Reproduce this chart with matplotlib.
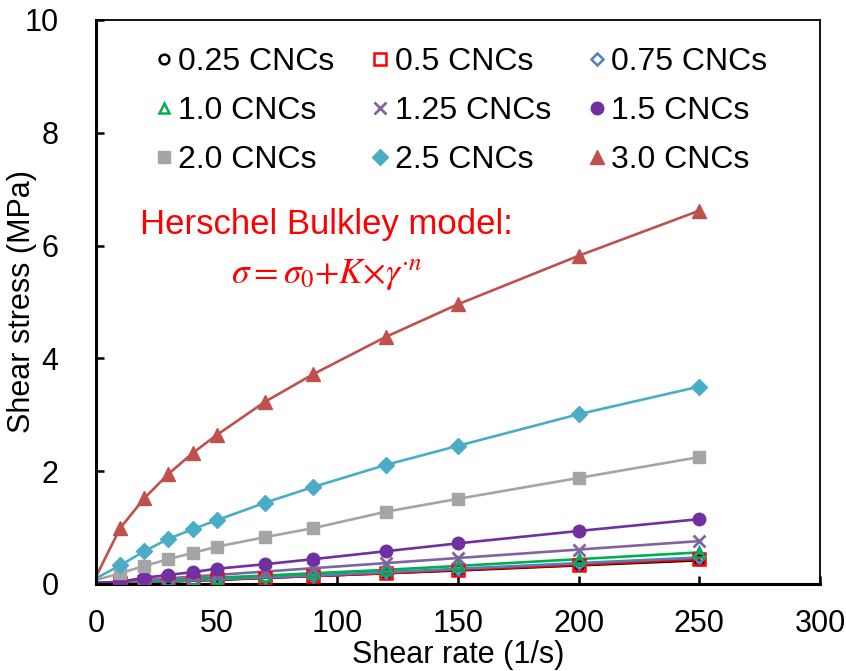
import matplotlib
matplotlib.use("Agg")
import matplotlib.pyplot as plt

plt.rcParams['font.family'] = ['Liberation Sans', 'DejaVu Sans']
plt.rcParams['mathtext.fontset'] = 'stix'

# shear rates (1/s)
shear_rate = [10, 20, 30, 40, 50, 70, 90, 120, 150, 200, 250]

labels = ['0.25 CNCs', '0.5 CNCs', '0.75 CNCs', '1.0 CNCs', '1.25 CNCs',
          '1.5 CNCs', '2.0 CNCs', '2.5 CNCs', '3.0 CNCs']

# measured shear stress (MPa)
stress_025 = [0.02, 0.03, 0.04, 0.06, 0.07, 0.11, 0.14, 0.19, 0.24, 0.33, 0.42]
stress_05 = [0.02, 0.03, 0.05, 0.06, 0.08, 0.11, 0.14, 0.19, 0.25, 0.34, 0.44]
stress_075 = [0.02, 0.04, 0.05, 0.07, 0.08, 0.12, 0.15, 0.21, 0.27, 0.37, 0.47]
stress_10 = [0.03, 0.05, 0.07, 0.09, 0.11, 0.15, 0.19, 0.25, 0.32, 0.44, 0.56]
stress_125 = [0.03, 0.07, 0.10, 0.13, 0.16, 0.22, 0.28, 0.37, 0.46, 0.61, 0.76]
stress_15 = [0.04, 0.11, 0.16, 0.21, 0.27, 0.35, 0.44, 0.58, 0.72, 0.94, 1.15]
stress_20 = [0.19, 0.32, 0.44, 0.55, 0.66, 0.83, 0.99, 1.28, 1.51, 1.88, 2.25]
stress_25 = [0.33, 0.58, 0.80, 0.97, 1.13, 1.44, 1.72, 2.11, 2.45, 3.01, 3.50]
stress_30 = [0.99, 1.52, 1.95, 2.32, 2.64, 3.23, 3.72, 4.38, 4.96, 5.82, 6.62]

# yield stress of each fit (value at zero shear rate)
yield_stress = [0.01, 0.01, 0.02, 0.02, 0.01, 0.02, 0.07, 0.10, 0.13]

series = [stress_025, stress_05, stress_075, stress_10, stress_125,
          stress_15, stress_20, stress_25, stress_30]
colors = ['#000000', '#FF0000', '#4F81BD', '#00B050', '#8064A2',
          '#7030A0', '#A5A5A5', '#4BACC6', '#C0504D']
markers = ['o', 's', 'D', '^', 'x', 'o', 's', 'D', '^']
hollow = [True, True, True, True, False, False, False, False, False]
msizes = [7, 8, 6.5, 7.5, 9, 9, 9, 8.5, 10]

fig = plt.figure(figsize=(8.46, 6.71), dpi=100)
ax = fig.add_axes([0.1135, 0.1297, 0.8558, 0.8405])

handles = []
for i, y in enumerate(series):
    c = colors[i]
    ax.plot([0] + shear_rate, [yield_stress[i]] + y, color=c, lw=1.9, zorder=2)
    if markers[i] == 'x':
        h, = ax.plot(shear_rate, y, ls='none', marker='x', ms=msizes[i],
                     mec=c, mew=2, label=labels[i], zorder=3)
    elif hollow[i]:
        h, = ax.plot(shear_rate, y, ls='none', marker=markers[i], ms=msizes[i],
                     mfc='none', mec=c, mew=1.8, label=labels[i], zorder=3)
    else:
        h, = ax.plot(shear_rate, y, ls='none', marker=markers[i], ms=msizes[i],
                     mfc=c, mec=c, mew=1, label=labels[i], zorder=3)
    handles.append(h)

ax.set_xlim(0, 300)
ax.set_ylim(0, 10)
ax.set_xticks(range(0, 301, 50))
ax.set_yticks(range(0, 11, 2))
ax.tick_params(direction='in', length=6, width=1.8, labelsize=22)
ax.tick_params(axis='y', pad=27)
ax.tick_params(axis='x', pad=18)
for side in ['left', 'bottom']:
    ax.spines[side].set_linewidth(2.2)
for side in ['top', 'right']:
    ax.spines[side].set_linewidth(1.3)

ax.set_xlabel('Shear rate (1/s)', fontsize=22, va='center')
ax.set_ylabel('Shear stress (MPa)', fontsize=22, va='center')
ax.xaxis.set_label_coords(0.5, -0.126)
ax.yaxis.set_label_coords(-0.102, 0.5)

# legend filled row by row
order = [0, 3, 6, 1, 4, 7, 2, 5, 8]
ax.legend([handles[k] for k in order], [labels[k] for k in order],
          ncol=3, loc='upper left', bbox_to_anchor=(0.065, 0.975),
          frameon=False, fontsize=23, handlelength=0.5, handletextpad=0.19,
          columnspacing=1.2, labelspacing=0.6, borderaxespad=0)

ax.text(18.2, 6.38, 'Herschel Bulkley model:', color='red', fontsize=25,
        ha='left', va='center')
ax.text(56.0, 5.48, r'$\sigma{=}\sigma_0{+}K{\times}\gamma^{\cdot n}$',
        color='red', fontsize=25.5, ha='left', va='center')

fig.savefig('out.png', dpi=100)
